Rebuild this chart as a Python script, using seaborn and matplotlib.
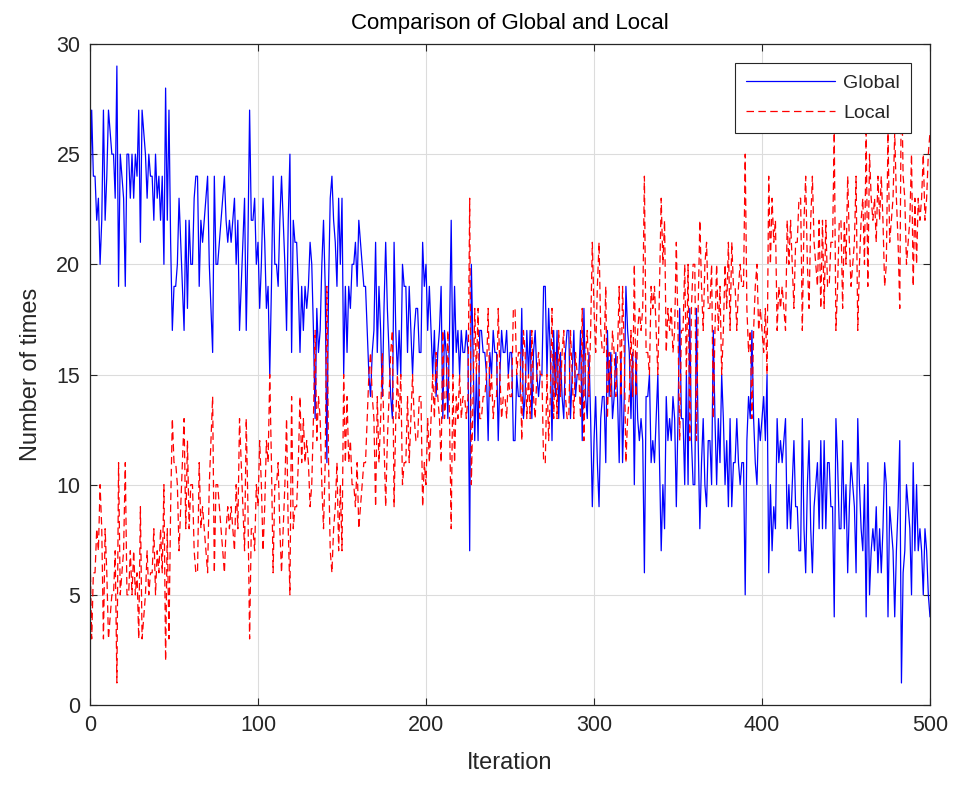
import numpy as np
import pandas as pd
import matplotlib
matplotlib.use("Agg")
import matplotlib.pyplot as plt
import seaborn as sns

iterations = list(range(0, 501))

global_counts = [
    23,27,24,24,22,23,20,22,27,22,
    24,27,26,25,25,23,29,19,25,24,
    23,19,25,25,23,25,23,25,24,27,
    21,27,26,25,23,25,24,24,22,25,
    23,24,22,24,20,28,22,27,21,17,
    19,19,20,23,21,19,17,22,18,22,
    20,20,23,24,24,19,22,21,22,23,
    24,20,18,16,24,20,20,21,22,23,
    24,22,21,22,21,22,23,20,22,17,
    19,21,23,17,21,27,22,22,23,20,
    21,18,20,23,21,18,19,15,19,24,
    20,20,19,22,24,22,20,17,22,25,
    16,22,21,21,19,16,19,17,19,18,
    19,21,20,17,13,18,16,17,20,22,
    19,11,19,23,24,22,21,19,23,20,
    23,15,19,16,19,18,20,20,21,19,
    22,21,20,19,19,17,15,14,16,17,
    21,16,19,17,14,18,21,18,16,14,
    13,21,17,15,17,15,20,19,19,16,
    19,17,15,17,18,18,16,16,21,19,
    20,17,19,17,15,17,14,16,17,19,
    13,17,16,13,17,22,15,19,16,17,
    15,17,16,16,17,16,7,20,16,12,
    15,12,17,17,16,16,15,12,16,15,
    17,16,16,12,15,17,16,16,17,15,
    16,16,12,12,15,14,14,18,13,14,
    17,15,17,13,16,17,15,14,15,15,
    19,19,15,18,16,12,17,14,17,13,
    16,14,13,16,17,17,13,15,17,14,
    15,15,17,12,18,14,13,16,13,9,
    12,14,11,9,13,14,14,11,17,14,
    16,13,14,16,14,11,16,11,14,19,
    17,16,13,16,10,16,13,12,13,12,
    6,14,14,15,11,12,11,13,15,11,
    7,10,8,14,12,13,12,14,13,9,
    13,18,13,13,10,15,10,18,12,10,
    10,18,12,8,11,13,10,9,12,12,
    10,17,13,10,13,11,15,13,10,12,
    9,13,9,11,11,13,11,10,11,11,
    5,12,14,13,17,13,11,10,13,12,
    13,14,12,15,6,10,7,9,8,13,
    11,12,11,12,13,8,10,8,10,12,
    9,9,7,7,13,8,6,10,12,8,
    6,9,10,11,8,12,8,12,8,11,
    11,9,9,4,13,11,8,8,12,8,
    10,6,9,11,10,9,6,13,10,8,
    7,10,4,11,5,7,8,7,9,6,
    8,6,8,11,10,4,9,8,7,4,
    7,9,12,1,6,7,10,9,8,5,
    11,7,10,7,8,7,5,8,7,5,
    4,
]

local_counts = [
    7,3,6,6,8,7,10,8,3,8,
    6,3,4,5,5,7,1,11,5,6,
    7,11,5,5,7,5,7,5,6,3,
    9,3,4,5,7,5,6,6,8,5,
    7,6,8,6,10,2,8,3,9,13,
    11,11,10,7,9,11,13,8,12,8,
    10,10,7,6,6,11,8,9,8,7,
    6,10,12,14,6,10,10,9,8,7,
    6,8,9,8,9,8,7,10,8,13,
    11,9,7,13,9,3,8,8,7,10,
    9,12,10,7,9,12,11,15,11,6,
    10,10,11,8,6,8,10,13,8,5,
    14,8,9,9,11,14,11,13,11,12,
    11,9,10,13,17,12,14,13,10,8,
    11,19,11,7,6,8,9,11,7,10,
    7,15,11,14,11,12,10,10,9,11,
    8,9,10,11,11,13,15,16,14,13,
    9,14,11,13,16,12,9,12,14,16,
    17,9,13,15,13,15,10,11,11,14,
    11,13,15,13,12,12,14,14,9,11,
    10,13,11,13,15,13,16,14,13,11,
    17,13,14,17,13,8,15,11,14,13,
    15,13,14,14,13,14,23,10,14,18,
    15,18,13,13,14,14,15,18,14,15,
    13,14,14,18,15,13,14,14,13,15,
    14,14,18,18,15,16,16,12,17,16,
    13,15,13,17,14,13,15,16,15,15,
    11,11,15,12,14,18,13,16,13,17,
    14,16,17,14,13,13,17,15,13,16,
    15,15,13,18,12,16,17,14,17,21,
    18,16,19,21,17,16,16,19,13,16,
    14,17,16,14,16,19,14,19,16,11,
    13,14,17,14,20,14,17,18,17,18,
    24,16,16,15,19,18,19,17,15,19,
    23,20,22,16,18,17,18,16,17,21,
    17,12,17,17,20,15,20,12,18,20,
    20,12,18,22,19,17,20,21,18,18,
    20,13,17,20,17,19,15,17,20,18,
    21,17,21,19,19,17,19,20,19,19,
    25,18,16,17,13,17,19,20,17,18,
    17,16,18,15,24,20,23,21,22,17,
    19,18,19,18,17,22,20,22,20,18,
    21,21,23,23,17,22,24,20,18,22,
    24,21,20,19,22,18,22,18,22,19,
    19,21,21,26,17,19,22,22,18,22,
    20,24,21,19,20,21,24,17,20,22,
    23,20,26,19,25,23,22,23,21,24,
    22,24,22,19,20,26,21,22,23,26,
    23,21,18,29,24,23,20,21,22,25,
    19,23,20,23,22,23,25,22,23,25,
    26,
]

x_ticks = [0, 100, 200, 300, 400, 500]
y_ticks = [0, 5, 10, 15, 20, 25, 30]
series_names = ["Global", "Local"]

sns.set_theme(style="white")
plt.rcParams["font.family"] = ["Liberation Sans", "DejaVu Sans"]

df = pd.DataFrame({
    "Iteration": iterations,
    "Global": global_counts,
    "Local": local_counts,
})

fig = plt.figure(figsize=(9.63, 7.87), dpi=100)
ax = fig.add_axes([90/963, 1 - 705/787, (930-90)/963, (705-44)/787])

sns.lineplot(data=df, x="Iteration", y="Global", ax=ax, color="#0000FF",
             linewidth=0.9, label=series_names[0])
sns.lineplot(data=df, x="Iteration", y="Local", ax=ax, color="#FF0000",
             linewidth=0.9, linestyle=(0, (6, 3.5)), label=series_names[1])

ax.set_xlim(0, 500)
ax.set_ylim(0, 30)
ax.set_xticks(x_ticks)
ax.set_yticks(y_ticks)
ax.grid(True, color="#dcdcdc", linewidth=0.8)
ax.set_axisbelow(True)
for s in ax.spines.values():
    s.set_color("#262626")
    s.set_linewidth(0.9)
ax.tick_params(direction="in", length=5, width=0.8, colors="#262626",
               labelsize=15.5, top=True, right=True, bottom=True, left=True,
               labelcolor="#262626", pad=7)

ax.set_title("Comparison of Global and Local", fontsize=16, color="#000000", pad=11)
ax.set_xlabel("Iteration", fontsize=17, color="#262626", labelpad=12)
ax.set_ylabel("Number of times", fontsize=17, color="#262626", labelpad=10)

leg = ax.legend(loc="upper right", fontsize=14, frameon=True, fancybox=False,
                edgecolor="#262626", handlelength=4.6, borderaxespad=1.0,
                borderpad=0.55, labelspacing=0.65, handletextpad=0.4)
leg.get_frame().set_linewidth(0.8)
leg.get_frame().set_facecolor("white")
leg.get_frame().set_alpha(1.0)

fig.savefig("out.png", dpi=100)
